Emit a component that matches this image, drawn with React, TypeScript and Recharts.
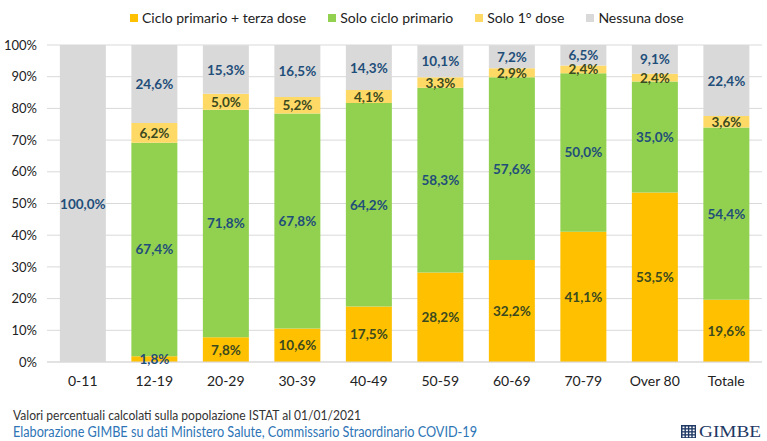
import React from "react";
import { BarChart, Bar, XAxis, YAxis, CartesianGrid, LabelList } from "recharts";

// Age groups and vaccination status shares (%)
const categories = ["0-11", "12-19", "20-29", "30-39", "40-49", "50-59", "60-69", "70-79", "Over 80", "Totale"];
const primaryPlusBooster = [0, 1.8, 7.8, 10.6, 17.5, 28.2, 32.2, 41.1, 53.5, 19.6];
const primaryOnly = [0, 67.4, 71.8, 67.8, 64.2, 58.3, 57.6, 50.0, 35.0, 54.4];
const firstDoseOnly = [0, 6.2, 5.0, 5.2, 4.1, 3.3, 2.9, 2.4, 2.4, 3.6];
const noDose = [100, 24.6, 15.3, 16.5, 14.3, 10.1, 7.2, 6.5, 9.1, 22.4];
const yTicks = [0, 10, 20, 30, 40, 50, 60, 70, 80, 90, 100];

const data = categories.map((name, i) => ({
  name,
  booster: primaryPlusBooster[i],
  primary: primaryOnly[i],
  first: firstDoseOnly[i],
  none: noDose[i],
}));

const series = [
  { key: "booster", label: "Ciclo primario + terza dose", color: "#FFC000", text: "#3B4A1F" },
  { key: "primary", label: "Solo ciclo primario", color: "#92D050", text: "#1F4E79" },
  { key: "first", label: "Solo 1° dose", color: "#FFD966", text: "#3B4A1F" },
  { key: "none", label: "Nessuna dose", color: "#D9D9D9", text: "#1F4E79" },
];

const fmt = (v: number) => v.toFixed(1).replace(".", ",") + "%";

const FONT = "Lato, 'Noto Sans', sans-serif";

const makeLabel = (textColor: string) => (props: any) => {
  const { x, y, width, height, value } = props;
  if (!value) return null;
  // very thin segments get the blue tone used for labels sitting over the axis
  const fill = value < 2 ? "#1F4E79" : textColor;
  return (
    <text
      x={x + width / 2}
      y={y + height / 2}
      textAnchor="middle"
      dominantBaseline="central"
      fill={fill}
      fontSize={13.5}
      fontWeight={700}
      fontFamily={FONT}
    >
      {fmt(value)}
    </text>
  );
};

const ChartLegend = () => (
  <div
    style={{
      position: "absolute",
      top: 9,
      left: 130,
      display: "flex",
      gap: 22,
      fontFamily: FONT,
      fontSize: 14,
      color: "#222",
      lineHeight: "17px",
    }}
  >
    {series.map((s) => (
      <div key={s.key} style={{ display: "flex", alignItems: "center" }}>
        <span style={{ width: 8, height: 8, background: s.color, marginRight: 4, display: "inline-block" }} />
        <span>{s.label}</span>
      </div>
    ))}
  </div>
);

export default function App() {
  return (
    <div style={{ position: "absolute", left: 0, top: 0, width: 767, height: 441, background: "#fff", overflow: "hidden" }}>
      <BarChart
        width={767}
        height={441}
        data={data}
        margin={{ top: 45, right: 5, left: 0, bottom: 49 }}
        barCategoryGap="18%"
      >
        <CartesianGrid vertical={false} stroke="#D9D9D9" />
        <XAxis
          dataKey="name"
          tickLine={false}
          axisLine={{ stroke: "#D9D9D9" }}
          tickMargin={8}
          tick={{ fontSize: 14, fill: "#222", fontFamily: FONT }}
          interval={0}
        />
        <YAxis
          type="number"
          domain={[0, 100]}
          ticks={yTicks}
          allowDataOverflow
          width={47}
          tickLine={false}
          axisLine={false}
          tickMargin={4}
          tickFormatter={(v: number) => `${v}%`}
          tick={{ fontSize: 13, fill: "#222", fontFamily: FONT }}
        />
        {series.map((s) => (
          <Bar key={s.key} dataKey={s.key} name={s.label} stackId="a" fill={s.color} isAnimationActive={false}>
            <LabelList dataKey={s.key} content={makeLabel(s.text)} />
          </Bar>
        ))}
      </BarChart>
      <ChartLegend />
      <svg width={767} height={441} style={{ position: "absolute", left: 0, top: 0, pointerEvents: "none" }}>
        <text x={13} y={420} fontFamily={FONT} fontSize={13} fill="#333" textLength={348} lengthAdjust="spacingAndGlyphs">
          Valori percentuali calcolati sulla popolazione ISTAT al 01/01/2021
        </text>
        <text x={13} y={437} fontFamily={FONT} fontSize={14.5} fill="#2E75B6" textLength={464} lengthAdjust="spacingAndGlyphs">
          Elaborazione GIMBE su dati Ministero Salute, Commissario Straordinario COVID-19
        </text>
        {/* GIMBE mark */}
        <g>
          <rect x={681} y={425} width={15} height={13} fill="#1F3864" />
          {[0, 1, 2, 3].map((r) =>
            [0, 1, 2, 3].map((c) => (
              <rect key={`${r}-${c}`} x={682.5 + c * 3.4} y={426.5 + r * 3} width={2} height={1.7} fill="#fff" />
            ))
          )}
          <text x={699} y={437} fontFamily="'Liberation Serif', 'DejaVu Serif', serif" fontSize={17} fill="#1F3864" textLength={62} lengthAdjust="spacingAndGlyphs">
            GIMBE
          </text>
        </g>
      </svg>
    </div>
  );
}
